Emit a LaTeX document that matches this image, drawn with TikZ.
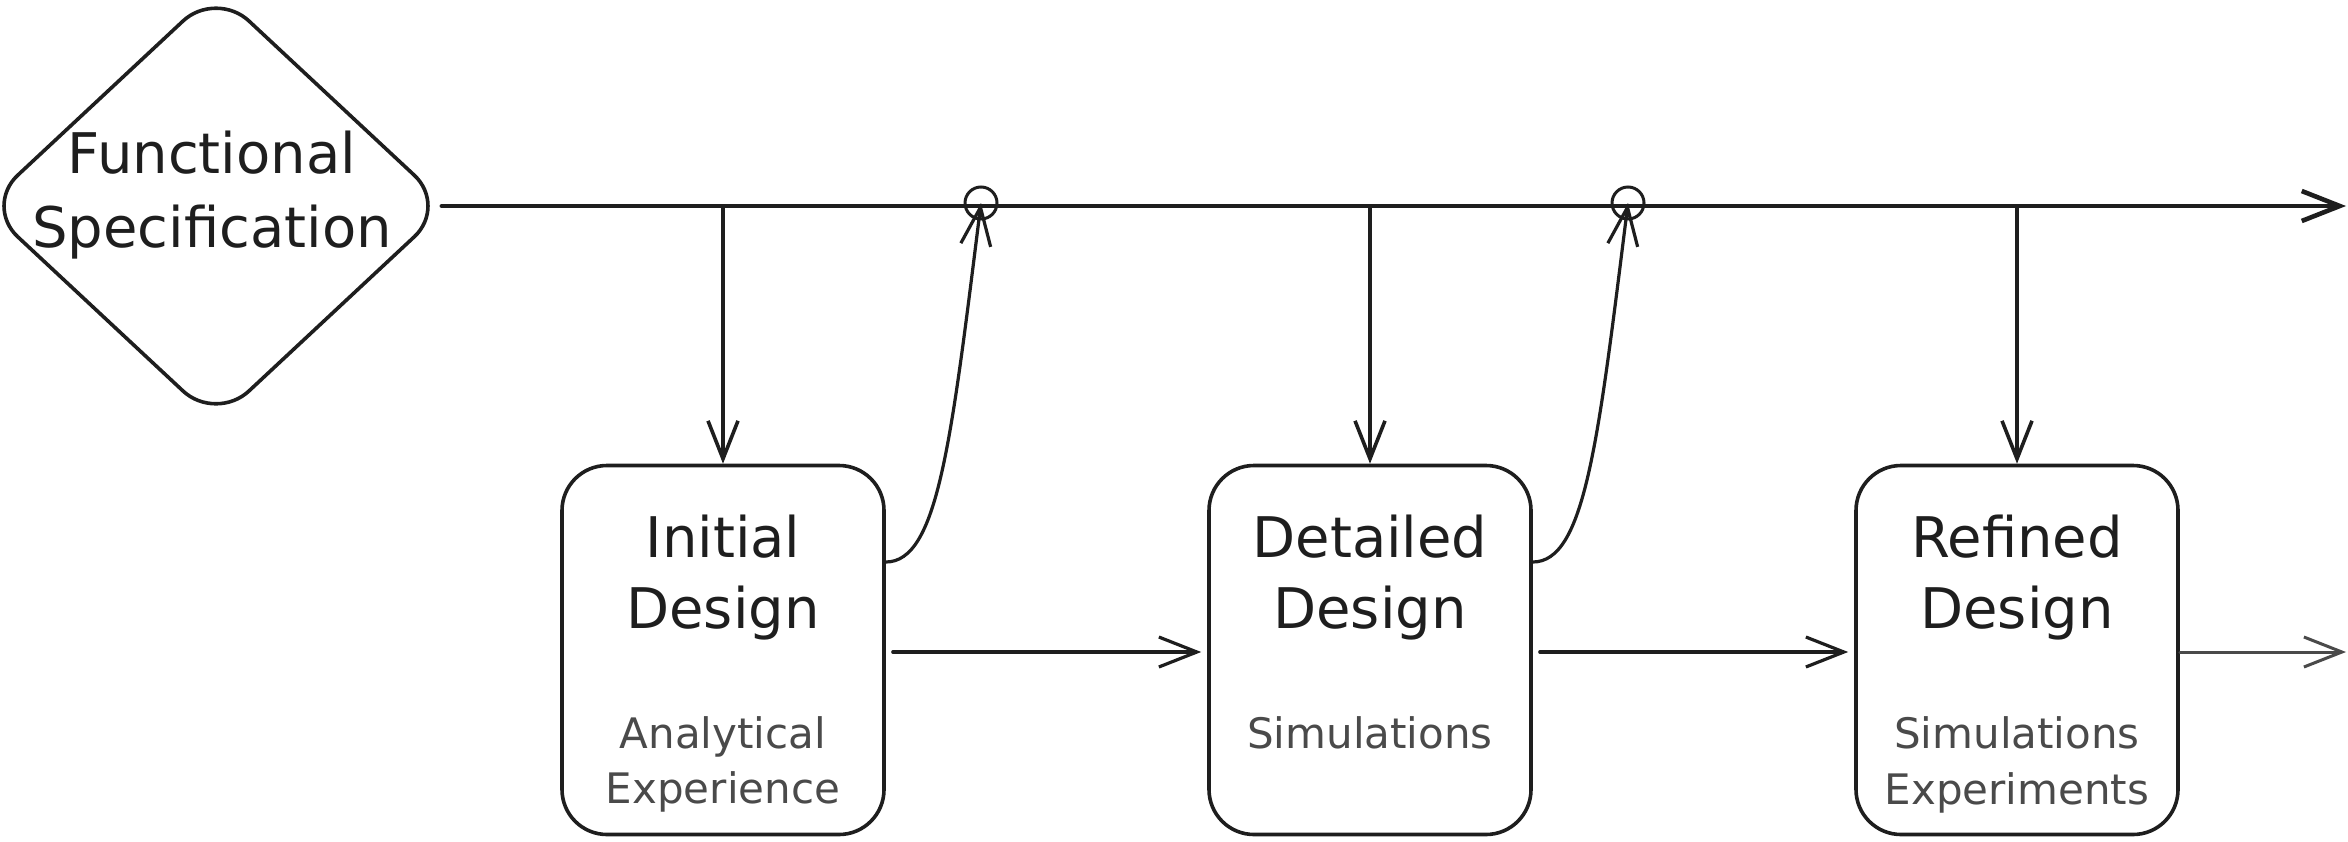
\documentclass[tikz,border=0pt]{standalone}
\usepackage{fontspec}
\setmainfont{DejaVu Sans}
\usetikzlibrary{arrows.meta,shapes.geometric}
\definecolor{ink}{HTML}{1E1E1E}
\definecolor{subink}{HTML}{4A4A4A}
\begin{document}
\begin{tikzpicture}[x=1pt,y=-1pt,
  inkline/.style={draw=ink, line cap=round, line join=round},
  arr/.style={inkline, -{Straight Barb[length=38pt,width=30pt]}},
  stage/.style={rectangle, draw=ink, line width=3.6pt, rounded corners=45pt,
    minimum width=322pt, minimum height=369pt, inner sep=0pt},
  junction/.style={circle, draw=ink, line width=3pt, minimum size=32pt, inner sep=0pt},
  title/.style={anchor=base, text=ink, font=\fontsize{56}{72}\selectfont, inner sep=0pt},
  sub/.style={anchor=base, text=subink, font=\fontsize{42}{55}\selectfont, inner sep=0pt}]
\useasboundingbox (0,0) rectangle (2348,841);

% decision diamond
\node[diamond, draw=ink, line width=3.6pt, rounded corners=45pt, minimum width=464pt,
  minimum height=433pt, inner sep=0pt] (spec) at (216,206) {};
\node[title] (specA) at (212,173) {Functional};
\node[title] (specB) at (212,247) {Specification};

% stage boxes
\node[stage] (b1) at (723,650) {};
\node[stage] (b2) at (1370,650) {};
\node[stage] (b3) at (2017,650) {};

\node[title] (b1a) at (723,557) {Initial};
\node[title] (b1b) at (723,628) {Design};
\node[sub] (b1c) at (723,748) {Analytical};
\node[sub] (b1d) at (723,803) {Experience};

\node[title] (b2a) at (1370,557) {Detailed};
\node[title] (b2b) at (1370,628) {Design};
\node[sub] (b2c) at (1370,748) {Simulations};

\node[title] (b3a) at (2017,557) {Refined};
\node[title] (b3b) at (2017,628) {Design};
\node[sub] (b3c) at (2017,748) {Simulations};
\node[sub] (b3d) at (2017,804) {Experiments};

% junctions on the main line
\coordinate (d1) at (723,206);
\coordinate (d2) at (1370,206);
\coordinate (d3) at (2017,206);
\coordinate (mend) at (2346,206);
\coordinate (out) at (2346,652);
\node[junction] (c1) at (981,203) {};
\node[junction] (c2) at (1628,203) {};

% main line
\draw[arr, line width=4.6pt] ([xshift=-8pt]spec.east) -- (mend);

% down arrows
\draw[arr, line width=3.6pt] (d1) -- (b1.north);
\draw[arr, line width=3.6pt] (d2) -- (b2.north);
\draw[arr, line width=3.6pt] (d3) -- (b3.north);

% feedback curves
\draw[arr, line width=3.2pt] ([yshift=88pt]b1.east) .. controls +(52,0) and +(-30,240) .. (c1.center);
\draw[arr, line width=3.2pt] ([yshift=88pt]b2.east) .. controls +(52,0) and +(-30,240) .. (c2.center);

% horizontal flow
\draw[arr, line width=3.2pt, shorten <=7pt, shorten >=6pt] ([yshift=-2pt]b1.east) -- ([yshift=-2pt]b2.west);
\draw[arr, line width=3.2pt, shorten <=7pt, shorten >=6pt] ([yshift=-2pt]b2.east) -- ([yshift=-2pt]b3.west);
\draw[arr, draw=subink, line width=3pt] ([yshift=-2pt]b3.east) -- (out);
\end{tikzpicture}
\end{document}
